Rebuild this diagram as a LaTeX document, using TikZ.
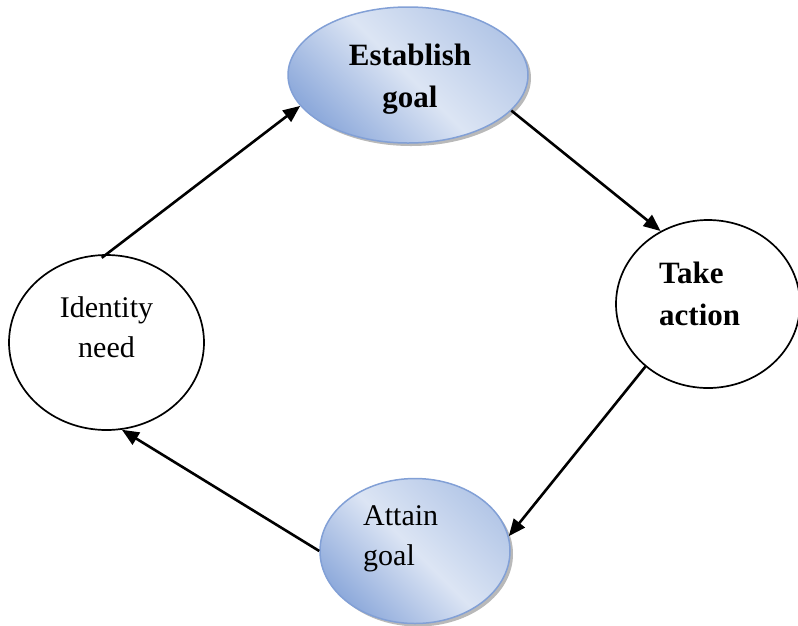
\documentclass[tikz,border=0pt]{standalone}
\usepackage{fontspec}
\setmainfont{Liberation Serif}
\usetikzlibrary{shapes.geometric,arrows.meta,shadows}
\definecolor{bdark}{RGB}{142,170,219}
\definecolor{blight}{RGB}{220,229,244}
\definecolor{bmed}{RGB}{180,199,231}
\definecolor{bedge}{RGB}{130,160,214}
\tikzset{
  blueell/.style={ellipse, inner sep=0pt, draw=bedge, line width=1.5pt,
    top color=bmed, bottom color=bdark, middle color=blight, shading angle=-45,
    drop shadow={shadow xshift=3pt, shadow yshift=-3pt, fill=black!55, opacity=0.5}},
  whiteell/.style={ellipse, inner sep=0pt, draw=black, line width=1.7pt, fill=white},
  boldlbl/.style={inner sep=0pt, font=\bfseries\fontsize{31}{42}\selectfont},
  reglbl/.style={inner sep=0pt, font=\fontsize{30}{40}\selectfont},
  flow/.style={line width=2.6pt, -{Triangle[length=17pt,width=14pt]}}
}
\begin{document}
\begin{tikzpicture}[x=1pt,y=-1pt]
\useasboundingbox (0,0) rectangle (798,625);
% ellipses
\node[blueell, minimum width=240pt, minimum height=136pt] (est) at (408,75) {};
\node[whiteell, minimum width=184pt, minimum height=168pt] (take) at (708,304) {};
\node[whiteell, minimum width=195pt, minimum height=175pt] (idn) at (106.5,342.5) {};
\node[blueell, minimum width=190pt, minimum height=145pt] (att) at (415,551) {};
% labels
\node[boldlbl, align=center] (estl) at (410,79) {Establish\\goal};
\node[boldlbl, align=left, anchor=west] (takel) at (659,294) {Take\\action};
\node[reglbl, align=center] (idnl) at (106.5,327) {Identity\\need};
\node[reglbl, align=left, anchor=west] (attl) at (363,539) {Attain\\goal};
% connectors
\draw[flow, shorten <=-6pt] (idn.north) -- (est.196);
\draw[flow] (est.-19) -- (take.123);
\draw[flow] (take.225) -- (att.9);
\draw[flow] (att.180) -- (idn.-80);
\end{tikzpicture}
\end{document}
